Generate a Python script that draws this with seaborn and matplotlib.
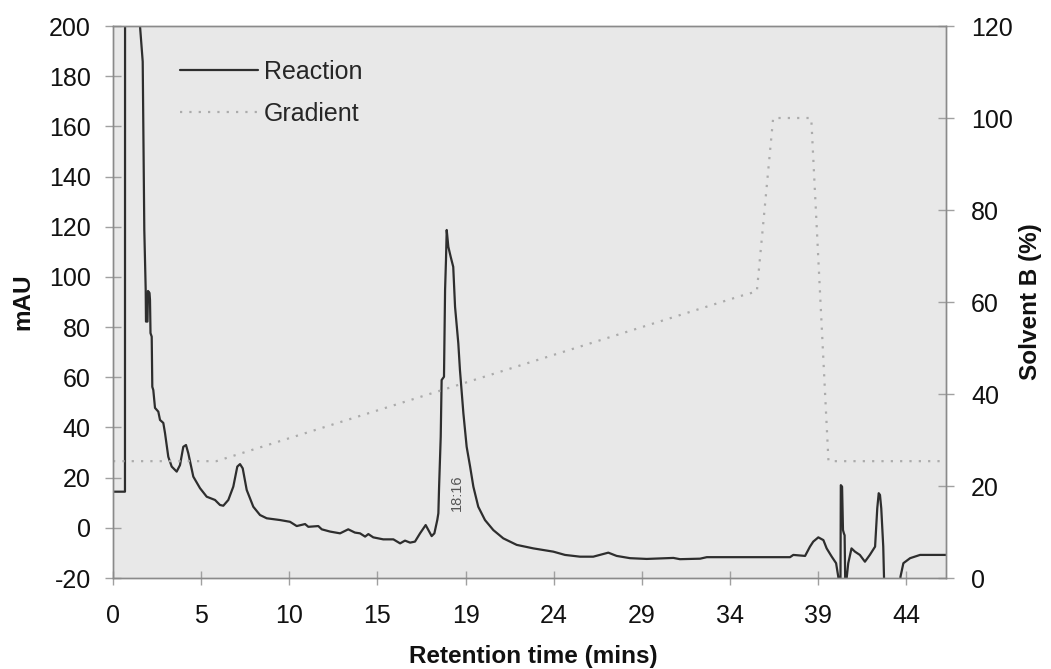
import numpy as np
import pandas as pd
import matplotlib
matplotlib.use("Agg")
import matplotlib.pyplot as plt
import seaborn as sns
from matplotlib.lines import Line2D

# ---- data ----
reaction_time = [0.00, 0.66, 0.67, 1.48, 1.489, 1.638, 1.726, 1.803, 1.819, 1.902, 1.930, 2.013, 2.040,
                 2.068, 2.134, 2.167, 2.222, 2.316, 2.498, 2.592, 2.774, 2.867, 3.049, 3.237, 3.512,
                 3.694, 3.876, 4.025, 4.152, 4.428, 4.797, 5.167, 5.624, 5.900, 6.082, 6.358, 6.633,
                 6.854, 7.003, 7.152, 7.372, 7.736, 8.106, 8.475, 9.208, 9.760, 10.13, 10.59, 10.77,
                 11.32, 11.51, 11.97, 12.52, 12.97, 13.34, 13.62, 13.90, 14.08, 14.35, 14.90, 15.46,
                 15.83, 16.10, 16.38, 16.65, 16.93, 17.24, 17.39, 17.57, 17.72, 17.88, 17.94, 17.98,
                 18.07, 18.12, 18.25, 18.31, 18.36, 18.40, 18.49, 18.62, 18.76, 18.86, 19.04, 19.13,
                 19.32, 19.50, 19.69, 19.87, 20.14, 20.51, 20.97, 21.52, 22.26, 23.18, 24.28, 24.92,
                 25.75, 26.48, 26.85, 27.31, 27.77, 28.51, 29.43, 30.90, 31.26, 32.37, 32.74, 37.33,
                 37.51, 38.16, 38.43, 38.61, 38.89, 39.17, 39.35, 39.63, 39.87, 39.99, 40.06, 40.11,
                 40.13, 40.20, 40.25, 40.30, 40.34, 40.38, 40.54, 40.72, 40.91, 41.18, 41.46, 41.73,
                 42.02, 42.14, 42.22, 42.29, 42.36, 42.47, 42.53, 43.40, 43.42, 43.58, 43.95, 44.50,
                 45.93]
reaction_mau = [14.4, 14.4, 400, 400, 200, 185.8, 118.7, 94.8, 82.2, 82.2, 94.4, 93.6, 90.8,
                77.6, 76.2, 56.2, 54.9, 47.8, 46.3, 43.0, 41.8, 37.8, 28.3, 24.4, 22.4,
                25.0, 32.3, 33.0, 29.7, 20.4, 15.8, 12.4, 11.1, 9.1, 8.8, 11.1, 16.4,
                24.4, 25.4, 23.7, 15.1, 8.4, 5.1, 3.8, 3.1, 2.4, 0.7, 1.5, 0.4,
                0.7, -0.6, -1.5, -2.2, -0.6, -1.9, -2.2, -3.5, -2.5, -3.8, -4.6, -4.6,
                -6.2, -5.1, -5.9, -5.5, -2.2, 1.1, -0.9, -3.3, -2.2, 3.1, 5.8, 16.4,
                36.3, 58.9, 60.2, 94.8, 106.7, 118.7, 112.0, 108.0, 104.0, 88.1, 73.5, 62.9,
                45.6, 32.3, 24.4, 16.4, 8.4, 3.1, -0.9, -4.2, -6.8, -8.2, -9.5, -10.8,
                -11.5, -11.5, -10.8, -9.9, -11.2, -12.1, -12.4, -12.0, -12.5, -12.3, -11.7, -11.7,
                -10.8, -11.2, -7.5, -5.5, -3.8, -4.9, -8.2, -11.5, -14.1, -19.5, -25, -25,
                17.0, 16.4, -0.9, -2.2, -3.0, -25, -14.1, -8.2, -9.5, -10.8, -13.5, -10.8,
                -7.5, 7.8, 13.8, 13.1, 7.8, -7.5, -25, -25, -19.5, -14.1, -12.1, -10.8,
                -10.8]

gradient_time = [0.0, 5.7, 34.6, 35.5, 36.4, 38.5, 39.45, 45.93]
gradient_pct = [25.4, 25.4, 61.3, 62.3, 100.0, 100.0, 25.4, 25.4]

x_tick_labels = ["0", "5", "10", "15", "19", "24", "29", "34", "39", "44"]
x_tick_step = 4.86
left_ticks = [-20, 0, 20, 40, 60, 80, 100, 120, 140, 160, 180, 200]
right_ticks = [0, 20, 40, 60, 80, 100, 120]
peak_label = "18:16"
peak_label_pos = (18.95, 14.0)

# ---- styling ----
sns.set_theme(style="white")
plt.rcParams["font.family"] = ["Liberation Sans", "DejaVu Sans"]
plt.rcParams["axes.unicode_minus"] = False

trace_color = "#2e2e2e"
grad_color = "#ababab"
bg_color = "#e8e8e8"
tick_color = "#a0a0a0"

fig = plt.figure(figsize=(10.51, 6.69), dpi=100)
ax = fig.add_axes([113 / 1051, 1 - 578 / 669, (946 - 113) / 1051, (578 - 26) / 669])
ax.set_facecolor(bg_color)
ax2 = ax.twinx()

df_r = pd.DataFrame({"t": reaction_time, "v": reaction_mau})
df_g = pd.DataFrame({"t": gradient_time, "v": gradient_pct})

sns.lineplot(data=df_r, x="t", y="v", ax=ax, sort=False, estimator=None,
             color=trace_color, linewidth=1.6, legend=False)
sns.lineplot(data=df_g, x="t", y="v", ax=ax2, sort=False, estimator=None,
             color=grad_color, linewidth=1.6, linestyle=(0, (1, 3.2)), legend=False)

ax.set_xlim(0, 45.93)
ax.set_ylim(-20, 200)
ax2.set_ylim(0, 120)

xt = [i * x_tick_step for i in range(len(x_tick_labels))]
ax.set_xticks(xt)
ax.set_xticklabels(x_tick_labels)
ax.set_yticks(left_ticks)
ax2.set_yticks(right_ticks)

for a in (ax, ax2):
    for s in a.spines.values():
        s.set_color("#8a8a8a")
        s.set_linewidth(1.0)

ax.tick_params(axis="x", direction="inout", length=10, width=1, color=tick_color,
               labelsize=18, pad=14, bottom=True, labelcolor="#111111")
ax.tick_params(axis="y", direction="inout", length=12, width=1, color=tick_color,
               labelsize=18, pad=10, left=True, labelcolor="#111111")
ax2.tick_params(axis="y", direction="inout", length=12, width=1, color=tick_color,
                labelsize=18, pad=12, right=True, labelcolor="#111111")

ax.set_xlabel("Retention time (mins)", fontsize=17.5, fontweight="bold", color="#111111")
ax.set_ylabel("mAU", fontsize=17.5, fontweight="bold", color="#111111")
ax2.set_ylabel("Solvent B (%)", fontsize=17.5, fontweight="bold", color="#111111")
ax.xaxis.set_label_coords((533 - 113) / 833, -(645 - 578) / 552)
ax.yaxis.set_label_coords(-(113 - 34) / 833, 0.5)
ax2.yaxis.set_label_coords(1 + (1019 - 946) / 833, 0.5)
ax2.yaxis.label.set_rotation(90)

ax.text(peak_label_pos[0], peak_label_pos[1], peak_label, rotation=90, fontsize=10.5,
        color="#555555", ha="center", va="center")

handles = [Line2D([], [], color=trace_color, linewidth=1.6),
           Line2D([], [], color=grad_color, linewidth=1.6, linestyle=(0, (1, 3.2)))]
ax.legend(handles, ["Reaction", "Gradient"], loc="upper left",
          bbox_to_anchor=((180 - 113) / 833, (578 - 60) / 552), frameon=False,
          fontsize=18, handlelength=3.1, handletextpad=0.25, labelspacing=0.72,
          borderpad=0, borderaxespad=0)

fig.savefig("out.png", dpi=100, facecolor="white")
